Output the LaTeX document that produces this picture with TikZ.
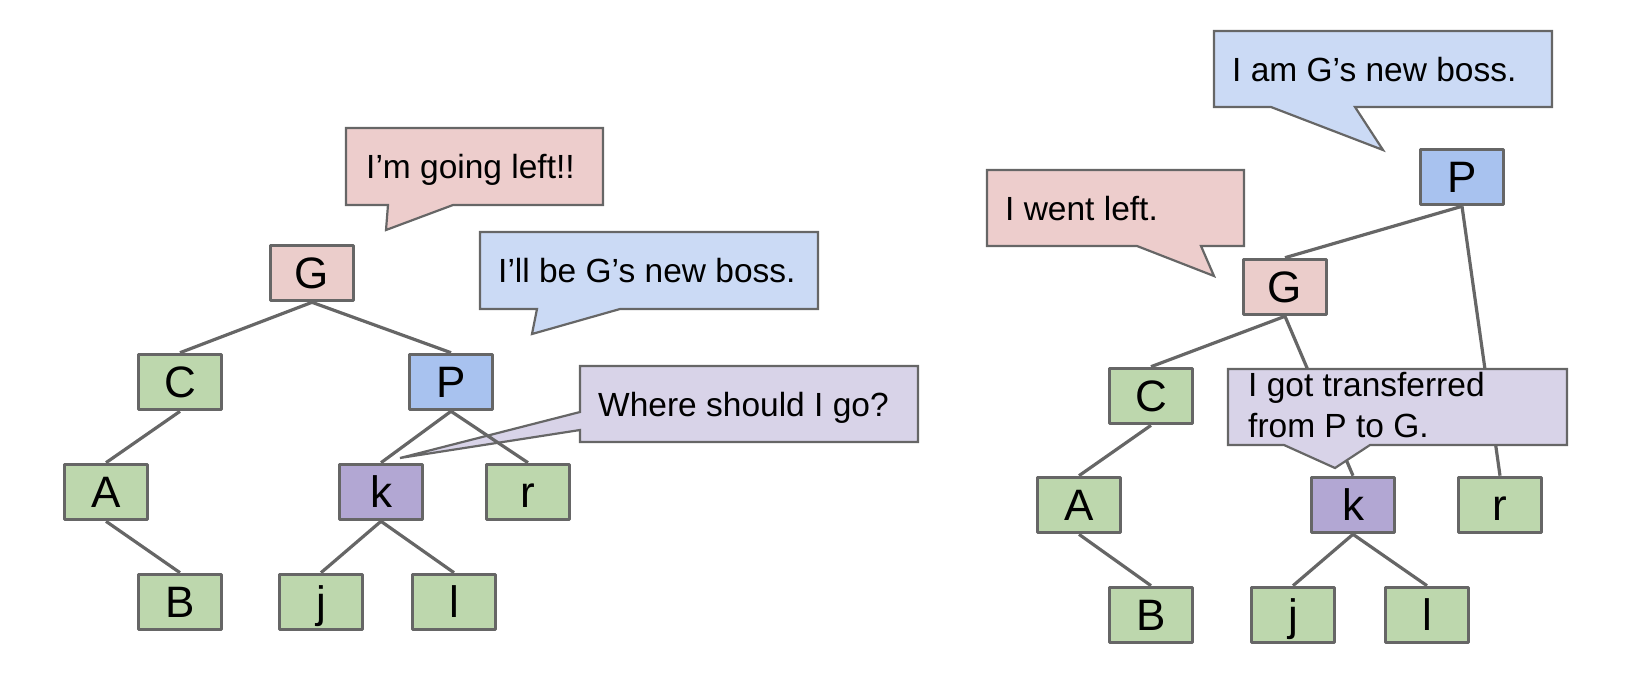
\documentclass[tikz,border=0pt]{standalone}
\usepackage{fontspec}
\setmainfont{Liberation Sans}
\definecolor{linegray}{HTML}{666666}
\definecolor{nodered}{HTML}{EBCDCB}
\definecolor{nodegreen}{HTML}{BDD7AD}
\definecolor{nodeblue}{HTML}{A8C2EF}
\definecolor{nodepurple}{HTML}{B2A7D3}
\definecolor{bubblered}{HTML}{EDCDCC}
\definecolor{bubbleblue}{HTML}{CBDAF5}
\definecolor{bubblepurple}{HTML}{D8D3E8}
\begin{document}
\begin{tikzpicture}[x=1pt,y=-1pt,
  tnode/.style={draw=linegray,line width=3.6pt,line join=round,minimum width=83pt,
    minimum height=55pt,inner sep=0pt,text height=31pt,text depth=0pt,
    font=\fontsize{44}{44}\selectfont},
  leaf/.style={tnode,fill=nodegreen},
  edge/.style={draw=linegray,line width=3.2pt},
  bubble/.style={draw=linegray,line width=2.2pt,miter limit=20},
  say/.style={anchor=west,inner sep=0pt,text height=24pt,text depth=0pt,
    font=\fontsize{33.5}{41}\selectfont}]
  \useasboundingbox (0,0) rectangle (1634,678);

  % before: bubbles under the edges
  \draw[bubble,fill=bubblered] (346,128) -- (603,128) -- (603,205) -- (453,205)
    -- (386,230) -- (388,205) -- (346,205) -- cycle;
  \node[say] (s0) at (366,166) {I’m going left!!};
  \draw[bubble,fill=bubbleblue] (480,232) -- (818,232) -- (818,309) -- (620,309)
    -- (532,334) -- (537,309) -- (480,309) -- cycle;
  \node[say] (s1) at (498,270) {I’ll be G’s new boss.};
  \draw[bubble,fill=bubblepurple] (580,366) -- (918,366) -- (918,442) -- (580,442)
    -- (580,430) -- (400,458) -- (580,412) -- cycle;
  \node[say] (s2) at (598,404) {Where should I go?};

  % before: tree
  \node[tnode,fill=nodered] (G0) at (312,273) {G};
  \node[leaf] (C0) at (180,382) {C};
  \node[tnode,fill=nodeblue] (P0) at (451,382) {P};
  \node[leaf] (A0) at (106,492) {A};
  \node[tnode,fill=nodepurple] (k0) at (381,492) {k};
  \node[leaf] (r0) at (528,492) {r};
  \node[leaf] (B0) at (180,602) {B};
  \node[leaf] (j0) at (321,602) {j};
  \node[leaf] (l0) at (454,602) {l};

  \draw[edge] (G0.south) -- (C0.north);
  \draw[edge] (G0.south) -- (P0.north);
  \draw[edge] (C0.south) -- (A0.north);
  \draw[edge] (A0.south) -- (B0.north);
  \draw[edge] (P0.south) -- (k0.north);
  \draw[edge] (P0.south) -- (r0.north);
  \draw[edge] (k0.south) -- (j0.north);
  \draw[edge] (k0.south) -- (l0.north);

  % after: tree
  \node[tnode,fill=nodeblue] (P1) at (1462,177) {P};
  \node[tnode,fill=nodered] (G1) at (1285,287) {G};
  \node[leaf] (C1) at (1151,396) {C};
  \node[leaf] (A1) at (1079,505) {A};
  \node[tnode,fill=nodepurple] (k1) at (1353,505) {k};
  \node[leaf] (r1) at (1500,505) {r};
  \node[leaf] (B1) at (1151,615) {B};
  \node[leaf] (j1) at (1293,615) {j};
  \node[leaf] (l1) at (1427,615) {l};

  \draw[edge] (P1.south) -- (G1.north);
  \draw[edge] (P1.south) -- (r1.north);
  \draw[edge] (G1.south) -- (C1.north);
  \draw[edge] (G1.south) -- (k1.north);
  \draw[edge] (C1.south) -- (A1.north);
  \draw[edge] (A1.south) -- (B1.north);
  \draw[edge] (k1.south) -- (j1.north);
  \draw[edge] (k1.south) -- (l1.north);

  % after: bubbles over the edges
  \draw[bubble,fill=bubbleblue] (1214,31) -- (1552,31) -- (1552,107) -- (1355,107)
    -- (1383,150) -- (1271,107) -- (1214,107) -- cycle;
  \node[say] (s3) at (1232,69) {I am G’s new boss.};
  \draw[bubble,fill=bubblered] (987,170) -- (1244,170) -- (1244,246) -- (1201,246)
    -- (1214,276) -- (1137,246) -- (987,246) -- cycle;
  \node[say] (s4) at (1005,208) {I went left.};
  \draw[bubble,fill=bubblepurple] (1228,369) -- (1567,369) -- (1567,445) -- (1370,445)
    -- (1335,468) -- (1284,445) -- (1228,445) -- cycle;
  \node[anchor=north west,inner sep=0pt,align=left,
    font=\fontsize{33.5}{41}\selectfont] (s5) at (1248,372)
    {I got transferred\\from P to G.};
\end{tikzpicture}
\end{document}
